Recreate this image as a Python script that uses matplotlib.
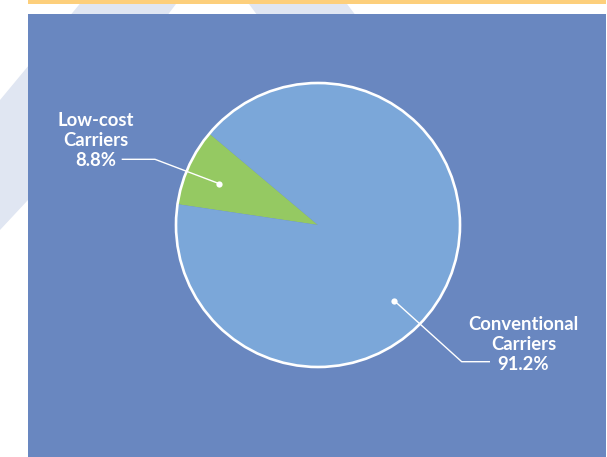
import numpy as np
import matplotlib.pyplot as plt
from matplotlib.patches import Rectangle, Polygon, Circle

plt.rcParams['font.family'] = ['Lato', 'DejaVu Sans']

# market share by carrier type
carriers = ["Low-cost\nCarriers", "Conventional\nCarriers"]
share = [8.8, 91.2]
slice_colors = ["#95c962", "#7ba7d9"]

W, H = 607, 457
fig = plt.figure(figsize=(W / 100, H / 100), dpi=100)
ax = fig.add_axes([0, 0, 1, 1])

# faint logo stripes behind the panel
stripe = "#e0e6f2"
ax.add_patch(Polygon([(83, 0), (179, 0), (28, 200), (0, 230), (0, 100)],
                     closed=True, fc=stripe, ec="none", zorder=0))
ax.add_patch(Polygon([(246, 0), (344, 0), (420, 100), (320, 100)],
                     closed=True, fc=stripe, ec="none", zorder=0))

# orange rule on top and the blue panel
ax.add_patch(Rectangle((28, 0), 578, 4, fc="#fdcf7b", ec="none", zorder=1))
ax.add_patch(Rectangle((28, 14), 578, H - 14, fc="#6987c0", ec="none", zorder=1))

# y axis runs downwards, so angles are flipped for the pie
cx, cy, r = 318, 225, 142
wedges, _ = ax.pie(share, colors=slice_colors, startangle=-139.9,
                   counterclock=False, center=(cx, cy), radius=r, frame=True,
                   wedgeprops=dict(linewidth=0, zorder=2))
ax.add_patch(Circle((cx, cy), r, fill=False, ec="white", lw=1.9, zorder=3))

# leader lines: dot angle inside the slice, elbow point, line end
anchor_angle = [157.3, 315.2]
anchor_r = 107.5
elbows = [(155, 159.3), (461.7, 361.7)]
ends = [(121.7, 159.3), (490, 361.7)]
text_x = [96, 523.5]
first_base = [126, 330]
line_gap = 19.8

for i, (name, v) in enumerate(zip(carriers, share)):
    a = np.deg2rad(anchor_angle[i])
    px, py = cx + anchor_r * np.cos(a), cy - anchor_r * np.sin(a)
    ax.plot([px, elbows[i][0], ends[i][0]], [py, elbows[i][1], ends[i][1]],
            color="white", lw=1.0, zorder=4, solid_capstyle="butt")
    ax.plot(px, py, "o", ms=4.5, color="white", mec="none", zorder=5)
    lines = name.split("\n") + [f"{v:.1f}%"]
    for j, s in enumerate(lines):
        ax.text(text_x[i], first_base[i] + j * line_gap, s, color="white",
                fontsize=13.3, fontweight="bold", ha="center", va="baseline",
                zorder=5)

ax.set_xlim(0, W)
ax.set_ylim(H, 0)
ax.set_aspect("auto")
ax.axis("off")
fig.savefig("out.png", dpi=100)
